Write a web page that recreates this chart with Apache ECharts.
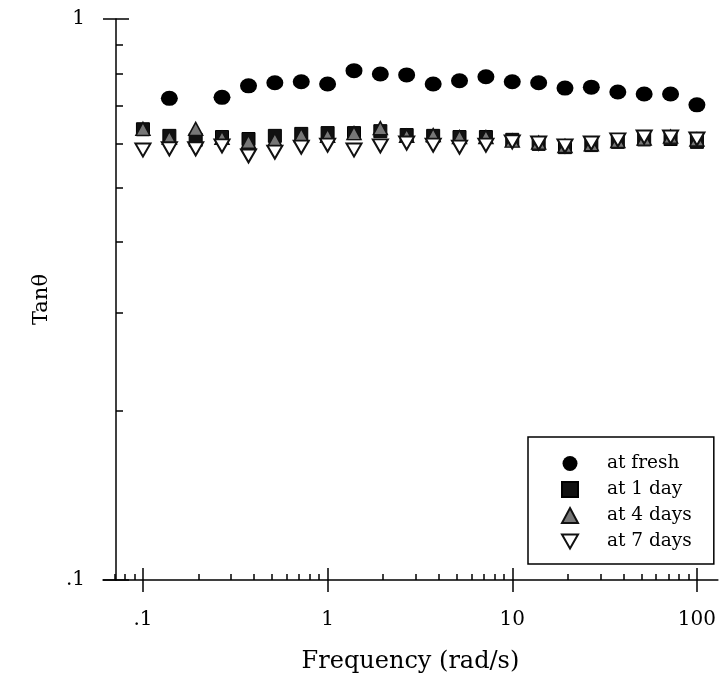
<!DOCTYPE html>
<html><head><meta charset="utf-8">
<script src="https://cdn.jsdelivr.net/npm/echarts@6/dist/echarts.min.js"></script>
<style>html,body{margin:0;padding:0;background:#fff}#c{width:719px;height:681px}</style>
</head><body><div id="c"></div>
<script>
const frequency = [0.1,0.139,0.193,0.268,0.373,0.518,0.720,1,1.39,1.93,2.68,3.73,5.18,7.20,10,13.9,19.3,26.8,37.3,51.8,72.0,100];
const tanFresh  = [null,0.722,null,0.725,0.760,0.770,0.773,0.766,0.809,0.798,0.795,0.766,0.776,0.789,0.773,0.770,0.753,0.756,0.741,0.735,0.735,0.703];
const tan1Day   = [0.636,0.619,0.609,0.616,0.611,0.619,0.624,0.626,0.626,0.631,0.621,0.619,0.616,0.616,0.609,0.599,0.591,0.596,0.604,0.610,0.611,0.604];
const tan4Days  = [0.637,0.614,0.637,0.614,0.604,0.609,0.621,0.619,0.626,0.639,0.619,0.621,0.616,0.616,0.607,0.602,0.594,0.598,0.606,0.612,0.617,0.610];
const tan7Days  = [0.584,0.587,0.587,0.594,0.570,0.579,0.591,0.596,0.584,0.594,0.601,0.596,0.591,0.596,0.604,0.601,0.594,0.601,0.609,0.616,0.616,0.611];
const seriesNames = ['at fresh','at 1 day','at 4 days','at 7 days'];
const xMajorTicks = [0.1,1,10,100];
const xMinorTicks = [0.07,0.08,0.09,0.2,0.3,0.4,0.5,0.6,0.7,0.8,0.9,2,3,4,5,6,7,8,9,20,30,40,50,60,70,80,90];
const yMajorTicks = [0.1,1];
const yMinorTicks = [0.2,0.3,0.4,0.5,0.6,0.7,0.8,0.9];

const FONT = 'DejaVu Serif';
const X_MIN = 0.06077, X_MAX = 129.9;

function pairs(vals){
  const out=[];
  vals.forEach((v,i)=>{ if(v!=null) out.push([frequency[i], v]); });
  return out;
}
function fmt(v){
  const s = String(+v.toPrecision(6));
  return s.startsWith('0.') ? s.slice(1) : s;
}

const baseX = {type:'log', min:X_MIN, max:X_MAX, position:'bottom', gridIndex:0, splitLine:{show:false}};
const baseY = {type:'log', min:0.1, max:1, position:'left', offset:-13, gridIndex:0, splitLine:{show:false}};
const lineStyle = {color:'#000', width:1.5};

const chart = echarts.init(document.getElementById('c'), null, {renderer:'canvas'});
chart.setOption({
  backgroundColor:'#fff',
  animation:false,
  grid:{left:103, right:0, top:19, bottom:101, containLabel:false},
  xAxis:[
    Object.assign({}, baseX, {
      axisLine:{show:true, lineStyle},
      axisTick:{show:true, inside:true, length:6, lineStyle, customValues:xMinorTicks},
      axisLabel:{show:true, margin:30, customValues:xMajorTicks, formatter:fmt,
        fontFamily:FONT, fontSize:20, color:'#000'},
      name:'Frequency (rad/s)', nameLocation:'middle', nameGap:70,
      nameTextStyle:{fontFamily:FONT, fontSize:24, color:'#000'}
    }),
    Object.assign({}, baseX, {
      axisLine:{show:false},
      axisTick:{show:true, inside:false, length:12, lineStyle, customValues:xMajorTicks},
      axisLabel:{show:false}
    }),
    Object.assign({}, baseX, {
      axisLine:{show:false},
      axisTick:{show:true, inside:true, length:12, lineStyle, customValues:xMajorTicks},
      axisLabel:{show:false}
    })
  ],
  yAxis:[
    Object.assign({}, baseY, {
      axisLine:{show:true, lineStyle},
      axisTick:{show:true, inside:true, length:7, lineStyle, customValues:yMinorTicks},
      axisLabel:{show:true, margin:31, customValues:yMajorTicks, formatter:fmt,
        fontFamily:FONT, fontSize:20, color:'#000', verticalAlign:'middle', padding:[4,0,0,0]},
      name:'Tanθ', nameLocation:'middle', nameGap:64, nameRotate:90,
      nameTextStyle:{fontFamily:FONT, fontSize:21, color:'#000'}
    }),
    Object.assign({}, baseY, {
      axisLine:{show:false},
      axisTick:{show:true, inside:false, length:13, lineStyle, customValues:yMajorTicks},
      axisLabel:{show:false}
    }),
    Object.assign({}, baseY, {
      axisLine:{show:false},
      axisTick:{show:true, inside:true, length:13, lineStyle, customValues:yMajorTicks},
      axisLabel:{show:false}
    })
  ],
  legend:{
    data:seriesNames, orient:'vertical', left:528, top:437,
    padding:[17,22,13,33], itemWidth:16, itemHeight:15, itemGap:7,
    borderColor:'#000', borderWidth:1.5, backgroundColor:'#fff',
    textStyle:{fontFamily:FONT, fontSize:18.5, color:'#000', lineHeight:15, padding:[0,0,0,24]}
  },
  series:[
    {name:seriesNames[0], type:'scatter', data:pairs(tanFresh), symbol:'circle', symbolSize:[17,15],
      itemStyle:{color:'#000', opacity:1}},
    {name:seriesNames[1], type:'scatter', data:pairs(tan1Day), symbol:'rect', symbolSize:13,
      itemStyle:{color:'#111', borderColor:'#000', borderWidth:1, opacity:1}},
    {name:seriesNames[2], type:'scatter', data:pairs(tan4Days), symbol:'triangle', symbolSize:[14,13],
      itemStyle:{color:'#777', borderColor:'#111', borderWidth:1.5, opacity:1}},
    {name:seriesNames[3], type:'scatter', data:pairs(tan7Days), symbol:'path://M0,0 L10,0 L5,8.66 Z', symbolSize:[15,13],
      itemStyle:{color:'#fff', borderColor:'#111', borderWidth:2, opacity:1}}
  ]
});
</script></body></html>
